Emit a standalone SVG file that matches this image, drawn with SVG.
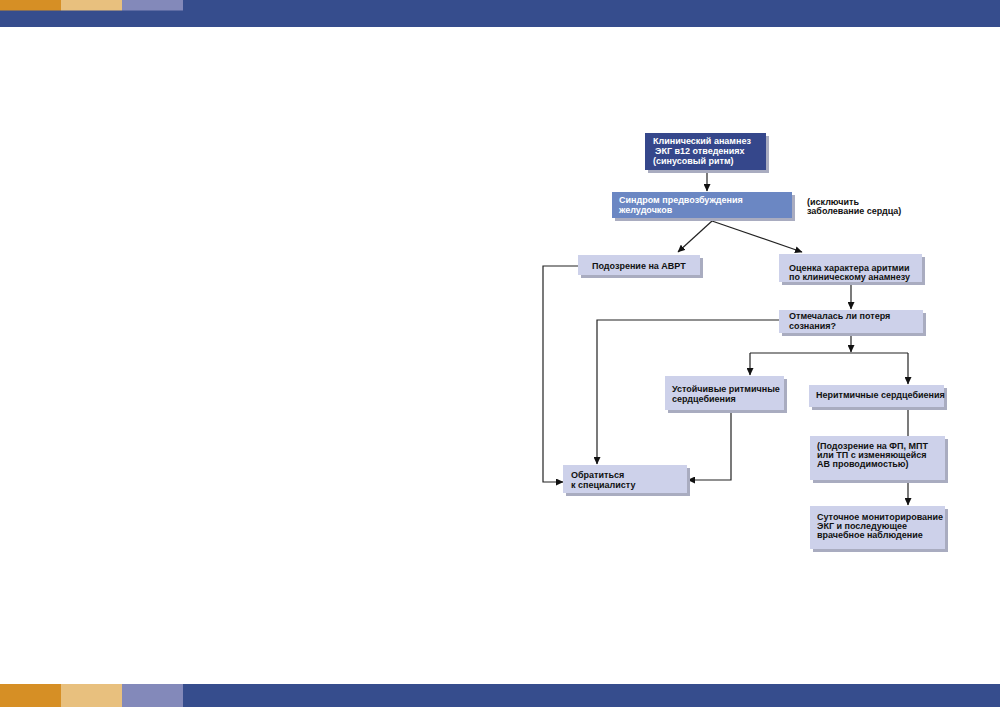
<svg xmlns="http://www.w3.org/2000/svg" width="1000" height="707" viewBox="0 0 1000 707">
<style>
.t{font-family:"Liberation Sans",Arial,sans-serif;font-weight:bold;font-size:9px;fill:#111}
.w{fill:#fff}
.box{fill:#CDD1EA}
.sh{fill:#A9ACC0}
.c{fill:none;stroke:#222;stroke-width:1.2}
</style>
<defs>
<marker id="ah" markerWidth="8" markerHeight="7" refX="7" refY="3.5" orient="auto" markerUnits="userSpaceOnUse">
<path d="M0,0 L7.5,3.5 L0,7 z" fill="#111"/>
</marker>
</defs>
<rect width="1000" height="707" fill="#fff"/>
<g id="header">
<rect x="0" y="0" width="1000" height="27" fill="#364D8D"/>
<rect x="0" y="0" width="61" height="10.5" fill="#D68F25"/>
<rect x="61" y="0" width="61" height="10.5" fill="#E8C07E"/>
<rect x="122" y="0" width="61" height="10.5" fill="#8389BA"/>
</g>
<g id="footer">
<rect x="0" y="684" width="61" height="23" fill="#D68F25"/>
<rect x="61" y="684" width="61" height="23" fill="#E8C07E"/>
<rect x="122" y="684" width="61" height="23" fill="#8389BA"/>
<rect x="183" y="684" width="817" height="23" fill="#364D8D"/>
</g>
<g id="connectors">
<line class="c" x1="707" y1="170" x2="707" y2="191" marker-end="url(#ah)"/>
<line class="c" x1="712" y1="221" x2="678" y2="252" marker-end="url(#ah)"/>
<line class="c" x1="712" y1="221" x2="802" y2="252" marker-end="url(#ah)"/>
<polyline class="c" points="578,266 543,266 543,482 563,482" marker-end="url(#ah)"/>
<line class="c" x1="851" y1="282" x2="851" y2="309" marker-end="url(#ah)"/>
<polyline class="c" points="779,320 597,320 597,464" marker-end="url(#ah)"/>
<line class="c" x1="851" y1="333" x2="851" y2="352" marker-end="url(#ah)"/>
<line class="c" x1="750" y1="353" x2="908" y2="353"/>
<line class="c" x1="750" y1="353" x2="750" y2="375" marker-end="url(#ah)"/>
<line class="c" x1="908" y1="353" x2="908" y2="384" marker-end="url(#ah)"/>
<polyline class="c" points="731,410 731,480 688,480" marker-end="url(#ah)"/>
<line class="c" x1="908" y1="407" x2="908" y2="436"/>
<line class="c" x1="908" y1="480" x2="908" y2="505" marker-end="url(#ah)"/>
</g>
<g id="n1">
<rect class="sh" x="648" y="136" width="121" height="37"/>
<rect x="645" y="133" width="121" height="37" fill="#35478B"/>
<text class="t w" x="653" y="143.5">Клинический анамнез</text>
<text class="t w" x="655" y="153.5">ЭКГ в12 отведениях</text>
<text class="t w" x="653" y="163.5">(синусовый ритм)</text>
</g>
<g id="n2">
<rect class="sh" x="615" y="195" width="180" height="26"/>
<rect x="612" y="192" width="180" height="26" fill="#6B87C3"/>
<text class="t w" x="619" y="203">Синдром предвозбуждения</text>
<text class="t w" x="619" y="212.5">желудочков</text>
</g>
<g id="note">
<text class="t" x="807" y="205">(исключить</text>
<text class="t" x="807" y="214">заболевание сердца)</text>
</g>
<g id="n3">
<rect class="sh" x="581" y="258" width="122" height="20"/>
<rect class="box" x="578" y="255" width="122" height="20"/>
<text class="t" x="592" y="269">Подозрение на АВРТ</text>
</g>
<g id="n4">
<rect class="sh" x="782" y="257" width="143" height="28"/>
<rect class="box" x="779" y="254" width="143" height="28"/>
<text class="t" x="789" y="270.5">Оценка характера аритмии</text>
<text class="t" x="789" y="280">по клиническому анамнезу</text>
</g>
<g id="n5">
<rect class="sh" x="782" y="313" width="144" height="23"/>
<rect class="box" x="779" y="310" width="144" height="23"/>
<text class="t" x="789" y="319">Отмечалась ли потеря</text>
<text class="t" x="789" y="328.5">сознания?</text>
</g>
<g id="n6">
<rect class="sh" x="668" y="379" width="119" height="34"/>
<rect class="box" x="665" y="376" width="119" height="34"/>
<text class="t" x="672" y="392">Устойчивые ритмичные</text>
<text class="t" x="672" y="402">сердцебиения</text>
</g>
<g id="n7">
<rect class="sh" x="812" y="388" width="135" height="22"/>
<rect class="box" x="809" y="385" width="135" height="22"/>
<text class="t" x="816" y="398">Неритмичные сердцебиения</text>
</g>
<g id="n8">
<rect class="sh" x="566" y="468" width="124" height="28"/>
<rect class="box" x="563" y="465" width="124" height="28"/>
<text class="t" x="571" y="478">Обратиться</text>
<text class="t" x="571" y="487.5">к специалисту</text>
</g>
<g id="n9">
<rect class="sh" x="813" y="439" width="135" height="44"/>
<rect class="box" x="810" y="436" width="135" height="44"/>
<text class="t" x="817" y="449">(Подозрение на ФП, МПТ</text>
<text class="t" x="817" y="458">или ТП с изменяющейся</text>
<text class="t" x="817" y="467">АВ проводимостью)</text>
</g>
<g id="n10">
<rect class="sh" x="813" y="509" width="135" height="43"/>
<rect class="box" x="810" y="506" width="135" height="43"/>
<text class="t" x="817" y="520">Суточное мониторирование</text>
<text class="t" x="817" y="529">ЭКГ и последующее</text>
<text class="t" x="817" y="538">врачебное наблюдение</text>
</g>
</svg>
